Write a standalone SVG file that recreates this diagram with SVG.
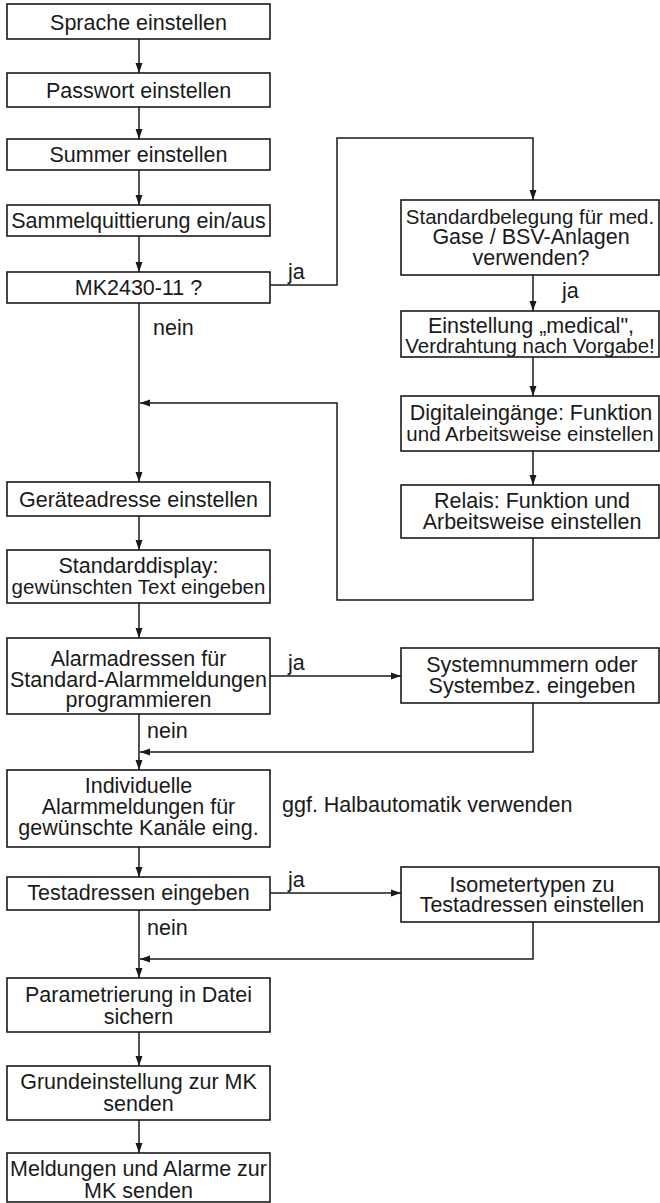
<svg xmlns="http://www.w3.org/2000/svg" width="660" height="1203" viewBox="0 0 660 1203">
<style>
.b{fill:#fff;stroke:#1a1a1a;stroke-width:1.6}
.c{fill:none;stroke:#1a1a1a;stroke-width:1.5}
text{font-family:"Liberation Sans",Arial,sans-serif;font-size:21.5px;fill:#1a1a1a}
.l{text-anchor:middle}
.r{text-anchor:middle}
.n{font-size:20.5px}
</style>
<defs>
<marker id="a" markerUnits="userSpaceOnUse" markerWidth="10" markerHeight="8" refX="10" refY="4" orient="auto">
<path d="M0,0.5 L10,4 L0,7.5 z" fill="#1a1a1a"/>
</marker>
</defs>
<rect width="660" height="1203" fill="#fff"/>
<g id="connectors">
<path class="c" d="M139,39 V73" marker-end="url(#a)"/>
<path class="c" d="M139,107 V139" marker-end="url(#a)"/>
<path class="c" d="M139,170 V205" marker-end="url(#a)"/>
<path class="c" d="M139,236 V272" marker-end="url(#a)"/>
<path class="c" d="M270,285 H337 V138 H533 V200" marker-end="url(#a)"/>
<path class="c" d="M533,275 V311" marker-end="url(#a)"/>
<path class="c" d="M533,357 V396" marker-end="url(#a)"/>
<path class="c" d="M533,451 V485" marker-end="url(#a)"/>
<path class="c" d="M533,538 V600 H337 V403 H140" marker-end="url(#a)"/>
<path class="c" d="M139,303 V482" marker-end="url(#a)"/>
<path class="c" d="M139,516 V550" marker-end="url(#a)"/>
<path class="c" d="M139,603 V638" marker-end="url(#a)"/>
<path class="c" d="M270,676 H401" marker-end="url(#a)"/>
<path class="c" d="M533,703 V752 H140" marker-end="url(#a)"/>
<path class="c" d="M139,714 V770" marker-end="url(#a)"/>
<path class="c" d="M139,847 V877" marker-end="url(#a)"/>
<path class="c" d="M270,893 H401" marker-end="url(#a)"/>
<path class="c" d="M533,922 V959 H140" marker-end="url(#a)"/>
<path class="c" d="M139,910 V978" marker-end="url(#a)"/>
<path class="c" d="M139,1032 V1066" marker-end="url(#a)"/>
<path class="c" d="M139,1120 V1153" marker-end="url(#a)"/>
<text x="288" y="279">ja</text>
<text x="153" y="335">nein</text>
<text x="562" y="298">ja</text>
<text x="288" y="670">ja</text>
<text x="147" y="738">nein</text>
<text x="288" y="887">ja</text>
<text x="147" y="935">nein</text>
</g>
<g id="n1"><rect class="b" x="7" y="4" width="263" height="35"/><text class="l" x="138.5" y="29.5">Sprache einstellen</text></g>
<g id="n2"><rect class="b" x="7" y="73" width="263" height="34"/><text class="l" x="138.5" y="97.5">Passwort einstellen</text></g>
<g id="n3"><rect class="b" x="7" y="139" width="263" height="31"/><text class="l" x="138.5" y="162">Summer einstellen</text></g>
<g id="n4"><rect class="b" x="7" y="205" width="263" height="31"/><text class="l" x="138.5" y="228">Sammelquittierung ein/aus</text></g>
<g id="n5"><rect class="b" x="7" y="272" width="263" height="31"/><text class="l" x="138.5" y="294.5">MK2430-11 ?</text></g>
<g id="n6"><rect class="b" x="401" y="200" width="258" height="75"/><text class="r n" x="530" y="223.5">Standardbelegung für med.</text><text class="r" x="531" y="244">Gase / BSV-Anlagen</text><text class="r" x="531" y="264.5">verwenden?</text></g>
<g id="n7"><rect class="b" x="401" y="311" width="258" height="46"/><text class="r" x="531" y="333">Einstellung „medical",</text><text class="r n" x="530" y="353">Verdrahtung nach Vorgabe!</text></g>
<g id="n8"><rect class="b" x="401" y="396" width="258" height="55"/><text class="r" x="531" y="420">Digitaleingänge: Funktion</text><text class="r n" x="530" y="441">und Arbeitsweise einstellen</text></g>
<g id="n9"><rect class="b" x="401" y="485" width="258" height="53"/><text class="r" x="532" y="508">Relais: Funktion und</text><text class="r" x="532" y="528.5">Arbeitsweise einstellen</text></g>
<g id="n10"><rect class="b" x="7" y="482" width="263" height="34"/><text class="l" x="138.5" y="506.5">Geräteadresse einstellen</text></g>
<g id="n11"><rect class="b" x="7" y="550" width="263" height="53"/><text class="l" x="138.5" y="573">Standarddisplay:</text><text class="l n" x="138.5" y="593.5">gewünschten Text eingeben</text></g>
<g id="n12"><rect class="b" x="7" y="638" width="263" height="76"/><text class="l" x="138.5" y="666">Alarmadressen für</text><text class="l" x="138.5" y="686.5">Standard-Alarmmeldungen</text><text class="l" x="138.5" y="707">programmieren</text></g>
<g id="n13"><rect class="b" x="401" y="648" width="258" height="55"/><text class="r" x="532" y="672">Systemnummern oder</text><text class="r" x="532" y="692.5">Systembez. eingeben</text></g>
<g id="n14"><rect class="b" x="7" y="770" width="263" height="77"/><text class="l" x="138.5" y="793">Individuelle</text><text class="l" x="138.5" y="814">Alarmmeldungen für</text><text class="l" x="138.5" y="835">gewünschte Kanäle eing.</text></g>
<g id="n15"><text x="282" y="812">ggf. Halbautomatik verwenden</text></g>
<g id="n16"><rect class="b" x="7" y="877" width="263" height="33"/><text class="l" x="138.5" y="900">Testadressen eingeben</text></g>
<g id="n17"><rect class="b" x="401" y="867" width="258" height="55"/><text class="r" x="532" y="891.5">Isometertypen zu</text><text class="r" x="532" y="912">Testadressen einstellen</text></g>
<g id="n18"><rect class="b" x="7" y="978" width="263" height="54"/><text class="l" x="138.5" y="1002">Parametrierung in Datei</text><text class="l" x="138.5" y="1023.5">sichern</text></g>
<g id="n19"><rect class="b" x="7" y="1066" width="263" height="54"/><text class="l" x="138.5" y="1088.5">Grundeinstellung zur MK</text><text class="l" x="138.5" y="1110.5">senden</text></g>
<g id="n20"><rect class="b" x="7" y="1153" width="263" height="49"/><text class="l" x="138.5" y="1175.5">Meldungen und Alarme zur</text><text class="l" x="138.5" y="1197.5">MK senden</text></g>
</svg>
